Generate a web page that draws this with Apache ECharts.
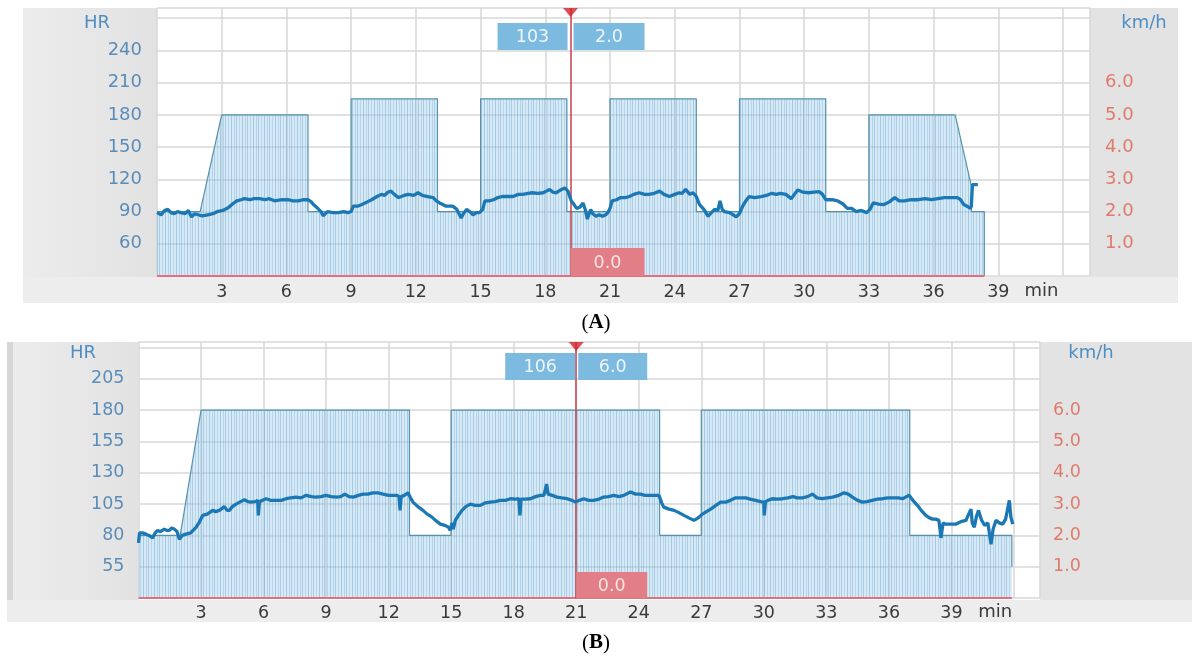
<!DOCTYPE html>
<html><head><meta charset="utf-8">
<script src="https://cdn.jsdelivr.net/npm/echarts@6/dist/echarts.min.js"></script>
<style>html,body{margin:0;padding:0;background:#fff}#c{width:1192px;height:659px}</style>
</head><body><div id="c"></div>
<script>
// ---------------- DATA ----------------
const xTickLabels = [3,6,9,12,15,18,21,24,27,30,33,36,39];
const xUnitLabel = 'min';
const topHRLabels = [60,90,120,150,180,210,240];
const botHRLabels = [55,80,105,130,155,180,205];
const speedLabels = [1,2,3,4,5,6];

// (A) treadmill speed profile [min, km/h]
const topSpeed = [[0,2.0],[2,2.0],[3,5.0],[7,5.0],[7,2.0],[9,2.0],[9,5.5],[13,5.5],[13,2.0],[15,2.0],[15,5.5],[19,5.5],[19,2.0],[21,2.0],[21,5.5],[25,5.5],[25,2.0],[27,2.0],[27,5.5],[31,5.5],[31,2.0],[33,2.0],[33,5.0],[37,5.0],[37.75,2.8],[37.75,2.0],[38.35,2.0],[38.35,0]];
// (A) inclination [min, value]
const topIncline = [[0,0],[38.35,0]];
// (A) heart rate [min, bpm]
const topHR = [[0,89],[0.05,89],[0.2,87],[0.35,91],[0.5,92],[0.65,89],[0.8,88],[0.95,90],[1.1,89],[1.3,88],[1.45,91],[1.6,85],[1.75,88],[1.9,87],[2.1,86],[2.35,87],[2.6,88],[2.8,90],[3.05,91],[3.3,93.5],[3.5,97],[3.7,100],[3.9,101],[4.05,102],[4.3,101],[4.5,102],[4.75,102],[5.0,101],[5.2,102],[5.45,100],[5.8,101],[6.1,101],[6.3,100],[6.55,100],[6.8,101],[7.0,101],[7.15,99],[7.25,96.5],[7.45,93],[7.6,90],[7.7,86],[7.9,90],[8.15,89],[8.4,89],[8.65,90],[8.85,89],[9.0,90],[9.1,95],[9.3,95],[9.5,96.5],[9.75,99],[9.95,101],[10.2,104],[10.4,106],[10.55,105],[10.7,108],[10.85,109],[11.0,106],[11.2,103],[11.45,105],[11.65,106],[11.9,105],[12.1,107.5],[12.3,105],[12.55,104],[12.8,103],[12.95,100],[13.1,98],[13.2,97],[13.4,95],[13.7,95],[13.9,92],[14.1,84],[14.2,88],[14.35,92],[14.5,90],[14.65,87],[14.8,89],[14.95,89],[15.1,92],[15.2,100],[15.4,100],[15.6,101],[15.8,103],[16.0,104],[16.25,104],[16.5,104],[16.75,106],[16.95,106],[17.2,107],[17.4,107.5],[17.65,107],[17.9,107.5],[18.05,109],[18.2,110.6],[18.35,108],[18.5,107.5],[18.7,110],[18.9,112],[19.05,109],[19.2,100],[19.35,96],[19.45,93],[19.6,94],[19.75,98],[19.85,92],[19.95,83],[20.1,92],[20.2,88],[20.35,85.6],[20.5,87],[20.65,85.6],[20.8,87],[20.9,89],[21.0,93],[21.1,100],[21.3,101],[21.5,103],[21.7,103],[21.9,104],[22.1,106],[22.35,107.5],[22.6,106],[22.8,106],[23.05,107],[23.3,109],[23.5,106],[23.75,104],[24.0,106],[24.2,107.5],[24.35,107],[24.5,110.6],[24.7,106],[24.85,107.5],[25.0,104],[25.15,96.5],[25.35,92],[25.55,85.6],[25.7,89],[25.85,92],[26.0,91],[26.1,100],[26.2,92],[26.3,90],[26.55,89],[26.85,85],[27.0,88],[27.15,95],[27.3,100],[27.45,104],[27.7,103],[28.0,104],[28.25,105],[28.5,107],[28.7,106],[28.9,107],[29.15,106],[29.4,102],[29.55,106],[29.7,110],[29.95,108],[30.2,107.5],[30.45,108],[30.7,108.5],[30.85,106],[31.0,101],[31.3,101],[31.55,100],[31.8,97],[32.0,93],[32.2,93],[32.4,90],[32.65,91],[32.9,89],[33.05,92],[33.2,98],[33.45,97],[33.7,96.5],[33.95,99],[34.2,103],[34.4,100],[34.65,100],[34.95,101],[35.3,101],[35.6,102],[35.9,101],[36.2,102],[36.5,103],[36.8,103],[37.1,103],[37.25,101],[37.4,96.5],[37.55,95],[37.7,93],[37.75,95],[37.8,115],[38.05,115]];
const topMarker = {t:19.17, hr:'103', speed:'2.0', incline:'0.0'};

// (B)
const botSpeed = [[0,2.0],[2,2.0],[3,6.0],[13,6.0],[13,2.0],[15,2.0],[15,6.0],[25,6.0],[25,2.0],[27,2.0],[27,6.0],[37,6.0],[37,2.0],[41.9,2.0],[41.9,1.0]];
const botIncline = [[0,0],[41.9,0]];
const botHR = [[0,74],[0.05,82],[0.2,82],[0.36,81],[0.5,80],[0.68,78],[0.8,82],[0.92,84],[1.05,83],[1.24,85],[1.35,84],[1.48,84],[1.6,86],[1.72,85],[1.85,83],[1.96,77],[2.1,80],[2.28,81],[2.5,82],[2.76,86.5],[2.9,90],[3.08,96],[3.3,97],[3.56,100],[3.7,99],[3.88,100],[4.12,103],[4.25,100],[4.36,100],[4.5,103],[4.68,105],[4.9,107],[5.08,108.5],[5.25,107],[5.4,106.6],[5.6,107],[5.72,108],[5.75,96],[5.8,107],[5.95,108],[6.12,109.3],[6.35,108],[6.6,108],[6.85,108],[7.08,109.3],[7.3,110],[7.56,110.6],[7.8,110],[8.04,112],[8.3,111],[8.5,110.6],[8.75,111],[9.0,112],[9.25,111],[9.5,110.6],[9.7,111],[9.9,113],[10.1,111],[10.3,110.6],[10.55,112],[10.77,113],[11.0,113],[11.25,114],[11.5,114],[11.73,113],[12.0,112],[12.2,112],[12.4,112],[12.5,111],[12.55,100],[12.6,111],[12.75,112],[12.93,114],[13.05,110],[13.17,106.6],[13.4,103],[13.65,100],[13.85,97],[14.05,95],[14.25,92],[14.48,89],[14.7,88],[14.88,86.5],[14.95,84],[15.05,90],[15.1,85],[15.2,92],[15.35,96],[15.52,100],[15.7,103],[15.92,105],[16.15,104],[16.4,104],[16.65,106],[16.88,106.6],[17.1,107],[17.36,108],[17.6,108],[17.84,109.3],[18.1,109],[18.25,109.3],[18.3,96],[18.35,109],[18.55,109],[18.8,109.3],[19.05,111],[19.28,112],[19.45,112],[19.58,121],[19.65,113],[19.85,112],[20.08,110.6],[20.3,110],[20.56,109.3],[20.8,108],[20.96,106.6],[21.15,108],[21.36,109.3],[21.6,108],[21.84,108],[22.1,109],[22.32,110.6],[22.55,111],[22.8,112],[23.05,111],[23.28,112],[23.6,114.7],[23.85,113],[24.08,113],[24.3,112],[24.56,112],[24.8,112],[24.97,112],[25.1,106],[25.2,102.6],[25.45,101],[25.7,100],[25.95,98],[26.17,96],[26.4,94],[26.65,92],[26.85,94],[27.05,97],[27.25,99],[27.45,101],[27.7,104],[27.93,106.6],[28.17,106.6],[28.4,108],[28.65,110],[28.9,110],[29.13,110],[29.35,109],[29.6,108],[29.85,107],[30.0,106.6],[30.02,96],[30.08,107],[30.2,108],[30.4,109.3],[30.65,109],[30.9,109.3],[31.15,110],[31.4,111],[31.6,110],[31.85,110],[32.1,111],[32.33,113],[32.55,110],[32.8,109.3],[33.05,110],[33.3,110.6],[33.6,112],[33.85,114],[34.05,113],[34.25,110.6],[34.5,108],[34.73,106.6],[34.95,107],[35.2,108],[35.45,109],[35.7,109.3],[35.95,110],[36.2,110],[36.45,110],[36.65,109.3],[36.85,111],[36.97,112],[37.15,108],[37.37,104],[37.55,100],[37.77,96],[37.95,94],[38.1,93],[38.25,93],[38.4,92],[38.5,78],[38.6,90],[38.7,89],[38.95,89],[39.2,89],[39.45,91],[39.7,92],[39.8,96],[39.94,101],[40.0,90],[40.1,86.5],[40.2,95],[40.3,100],[40.45,92],[40.6,88],[40.75,90],[40.9,73],[41.0,85],[41.14,92],[41.3,90],[41.46,89],[41.6,93],[41.78,108],[41.85,95],[41.94,89]];
const botMarker = {t:21.0, hr:'106', speed:'6.0', incline:'0.0'};

// ---------------- STYLE / LAYOUT ----------------
const FONT = 'DejaVu Sans';
const X_MAX = 43.25;
const TOP = {left:157, top:8, width:933, height:268, hrMin:30, hrMax:279.5, hrInt:30, spMax:8.32};
const BOT = {left:138.5, top:342, width:901.5, height:256, hrMin:30, hrMax:234.5, spMax:8.18};
const GRID_C = '#d7d7d7';
const HR_C = '#1b78b4';
const HR_LAB_C = '#5b8db8';
const SP_LAB_C = '#e07b6b';

function makeHatch(){
  const c = document.createElement('canvas');
  c.width = 11; c.height = 4;
  const g = c.getContext('2d');
  g.fillStyle = 'rgba(150,200,232,0.40)';
  g.fillRect(0,0,11,4);
  [[0,0.38],[3,0.26],[5,0.34],[8,0.24]].forEach(([x,a])=>{
    g.fillStyle = 'rgba(90,150,195,'+a+')';
    g.fillRect(x,0,1,4);
  });
  return c;
}
const hatch = makeHatch();

const chart = echarts.init(document.getElementById('c'), null, {renderer:'canvas'});

function xAxisOf(gi, margin){
  return {
    gridIndex: gi, type:'value', min:0, max:X_MAX, interval:3,
    axisLine:{show:false}, axisTick:{show:false},
    axisLabel:{formatter:v=>xTickLabels.includes(v)?String(v):'', color:'#3a3a3a', fontSize:17.5, fontFamily:FONT, margin:margin},
    splitLine:{show:true, lineStyle:{color:GRID_C, width:1.5}}
  };
}
const spFmt = v => speedLabels.includes(v) ? v.toFixed(1) : '';

const option = {
  backgroundColor:'#fff',
  animation:false,
  grid:[
    {left:TOP.left, top:TOP.top, width:TOP.width, height:TOP.height, show:true, backgroundColor:'#fff', borderWidth:0},
    {left:BOT.left, top:BOT.top, width:BOT.width, height:BOT.height, show:true, backgroundColor:'#fff', borderWidth:0}
  ],
  xAxis:[xAxisOf(0,7), xAxisOf(1,6)],
  yAxis:[
    {gridIndex:0, type:'value', min:TOP.hrMin, max:TOP.hrMax, interval:TOP.hrInt,
     axisLine:{show:false}, axisTick:{show:false},
     axisLabel:{formatter:v=>topHRLabels.includes(v)?String(v):'', color:HR_LAB_C, fontSize:18, fontFamily:FONT, margin:15},
     splitLine:{show:true, lineStyle:{color:GRID_C, width:1.5}}},
    {gridIndex:0, type:'value', position:'right', min:0, max:TOP.spMax, interval:1,
     axisLine:{show:false}, axisTick:{show:false},
     axisLabel:{formatter:spFmt, color:SP_LAB_C, fontSize:18, fontFamily:FONT, margin:15},
     splitLine:{show:false}},
    {gridIndex:1, type:'value', min:BOT.hrMin, max:BOT.hrMax,
     axisLine:{show:false}, axisTick:{show:false},
     axisLabel:{customValues:botHRLabels, color:HR_LAB_C, fontSize:17.5, fontFamily:FONT, margin:14},
     splitLine:{show:false}},
    {gridIndex:1, type:'value', position:'right', min:0, max:BOT.spMax, interval:1,
     axisLine:{show:false}, axisTick:{show:false},
     axisLabel:{formatter:spFmt, color:SP_LAB_C, fontSize:17.5, fontFamily:FONT, margin:13},
     splitLine:{show:true, lineStyle:{color:GRID_C, width:1.5}}}
  ],
  series:[]
};

function panelSeries(xi, hrYi, spYi, speed, incline, hr, marker, hrMax){
  return [
    {type:'line', xAxisIndex:xi, yAxisIndex:spYi, data:speed, showSymbol:false, z:2,
     lineStyle:{color:'#5592ad', width:1.2},
     areaStyle:{color:{image:hatch, repeat:'repeat'}, opacity:1}},
    {type:'line', xAxisIndex:xi, yAxisIndex:spYi, data:incline, showSymbol:false, z:4,
     lineStyle:{color:'#e3707c', width:2},
     markLine:{silent:true, symbol:'none', animation:false, label:{show:false},
       lineStyle:{color:'#c4404a', width:1.5, type:'solid'}, data:[{xAxis:marker.t}]}},
    {type:'line', xAxisIndex:xi, yAxisIndex:hrYi, data:hr, showSymbol:false, z:5,
     lineStyle:{color:HR_C, width:3.3}},
    {type:'scatter', xAxisIndex:xi, yAxisIndex:hrYi, data:[[marker.t, hrMax]], z:10, clip:false,
     symbol:'path://M0,0L14,0L7,9Z', symbolSize:[15,9], symbolOffset:[0,4.5],
     itemStyle:{color:'#d3232b'}}
  ];
}
option.series = [
  ...panelSeries(0,0,1, topSpeed, topIncline, topHR, topMarker, TOP.hrMax),
  ...panelSeries(1,2,3, botSpeed, botIncline, botHR, botMarker, BOT.hrMax)
];
chart.setOption(option);

// ---------------- DECORATION / TEXT ----------------
const mTop = chart.convertToPixel({xAxisIndex:0}, topMarker.t);
const mBot = chart.convertToPixel({xAxisIndex:1}, botMarker.t);
const baseTop = chart.convertToPixel({yAxisIndex:1}, 0);
const baseBot = chart.convertToPixel({yAxisIndex:3}, 0);
const minTopX = chart.convertToPixel({xAxisIndex:0}, 41);
const minBotX = chart.convertToPixel({xAxisIndex:1}, 41.1);

function rect(x,y,w,h,fill,z){ return {type:'rect', shape:{x,y,width:w,height:h}, style:{fill}, z:z||-10, silent:true}; }
function txt(x,y,text,fill,size,align,z){ return {type:'text', x, y, z:z||50, silent:true,
  style:{text, fill, font:(size||18)+'px "'+FONT+'"', align:align||'center', verticalAlign:'middle'}}; }
function box(x,y,w,h,fill,text,tfill){
  return [rect(x,y,w,h,fill,40), txt(x+w/2, y+h/2+1, text, tfill, 17.5, 'center', 41)];
}
const grayGrad = (c1,c2)=>({type:'linear', x:0,y:0,x2:1,y2:0, colorStops:[{offset:0,color:c1},{offset:1,color:c2}]});

const g = [
  // panel A backgrounds
  rect(23,8,134,269, grayGrad('#ececec','#e2e2e2')),
  rect(23,277,1155,26,'#ededed'),
  rect(1090,8,88,269,'#e3e3e3'),
  // panel B backgrounds
  rect(7,342,6,280,'#d6d6d6'),
  rect(13,342,125.5,258, grayGrad('#ececec','#e2e2e2')),
  rect(7,600,1185,22,'#ededed'),
  rect(1040,342,152,258,'#e3e3e3'),
  // axis titles
  txt(97,23,'HR','#4d8fc4',18),
  txt(1144,23,'km/h','#4d8fc4',18),
  txt(83,353,'HR','#4d8fc4',18),
  txt(1091,353,'km/h','#4d8fc4',18),
  txt(minTopX, 291, xUnitLabel, '#3a3a3a', 18),
  txt(minBotX, 612, xUnitLabel, '#3a3a3a', 18),
  // marker value boxes A
  ...box(mTop-73, 23, 70, 27, '#7dbadf', topMarker.hr, '#eef6fc'),
  ...box(mTop+3, 23, 71, 27, '#7dbadf', topMarker.speed, '#eef6fc'),
  ...box(mTop, baseTop-28, 74, 28, '#e27e86', topMarker.incline, '#fbe3e3'),
  // marker value boxes B
  ...box(mBot-71, 353, 70, 27, '#7dbadf', botMarker.hr, '#eef6fc'),
  ...box(mBot+2, 353, 69, 27, '#7dbadf', botMarker.speed, '#eef6fc'),
  ...box(mBot, baseBot-26, 71, 26, '#e27e86', botMarker.incline, '#fbe3e3'),
  // captions
  {type:'text', x:596, y:323, z:50, silent:true, style:{text:'{p|(}{b|A}{p|)}', align:'center', verticalAlign:'middle',
    rich:{p:{font:'21px "Liberation Serif"', fill:'#000'}, b:{font:'bold 21px "Liberation Serif"', fill:'#000'}}}},
  {type:'text', x:596, y:643, z:50, silent:true, style:{text:'{p|(}{b|B}{p|)}', align:'center', verticalAlign:'middle',
    rich:{p:{font:'21px "Liberation Serif"', fill:'#000'}, b:{font:'bold 21px "Liberation Serif"', fill:'#000'}}}}
];
chart.setOption({graphic:{elements:g}});
</script></body></html>
